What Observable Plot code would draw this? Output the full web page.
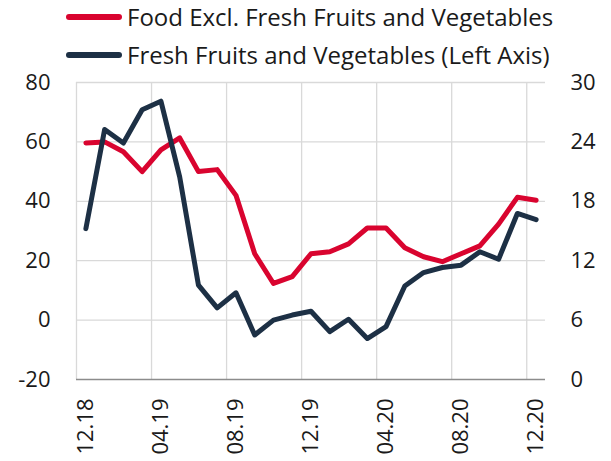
<!DOCTYPE html>
<html><head><meta charset="utf-8">
<script src="https://cdn.jsdelivr.net/npm/d3@7"></script>
<script src="https://cdn.jsdelivr.net/npm/@observablehq/plot@0.6"></script>
<style>
body{margin:0;background:#fff;font-family:"Open Sans",sans-serif;}
#legend{position:relative;height:60px;width:611px;}
.row{position:absolute;left:66px;display:flex;align-items:center;font-size:24px;color:#1a1a1a;white-space:nowrap;line-height:1;}
.sw{width:56px;height:6px;border-radius:3px;margin-right:5px;}
#chart svg{display:block;overflow:visible;}
</style></head><body>
<div id="legend"></div><div id="chart"></div>
<script>
const months = ["12.18","01.19","02.19","03.19","04.19","05.19","06.19","07.19","08.19","09.19","10.19","11.19","12.19",
  "01.20","02.20","03.20","04.20","05.20","06.20","07.20","08.20","09.20","10.20","11.20","12.20"];
const tickIndex = [0,4,8,12,16,20,24];
// Food excl. fresh fruits and vegetables (right axis, 0-30)
const foodExcl = [23.9,24.0,23.0,21.0,23.2,24.4,21.0,21.2,18.6,12.7,9.7,10.4,12.7,12.9,13.7,15.3,15.3,13.3,12.4,11.9,12.7,13.5,15.7,18.4,18.1];
// Fresh fruits and vegetables (left axis, -20-80)
const freshFV = [30.8,64.2,59.6,70.8,73.7,48.2,11.8,4.1,9.2,-5.0,0.0,1.7,3.0,-3.9,0.3,-6.2,-2.2,11.5,16.0,17.7,18.5,23.0,20.5,35.9,33.8];
const leftTicks = [-20,0,20,40,60,80];
const seriesNames = ["Food Excl. Fresh Fruits and Vegetables","Fresh Fruits and Vegetables (Left Axis)"];
const colors = ["#d9042f","#1d3045"];

const toLeft = r => r / 0.3 - 20;
const data = months.map((m, i) => ({i, m, food: foodExcl[i], fresh: freshFV[i]}));
const gridX = d3.range(-0.5, 24, 4);

const legend = document.getElementById("legend");
seriesNames.forEach((n, k) => {
  const row = document.createElement("div");
  row.className = "row";
  row.style.top = (k === 0 ? 5 : 43) + "px";
  row.innerHTML = `<span class="sw" style="background:${colors[k]}"></span><span>${n}</span>`;
  legend.appendChild(row);
});

const chart = Plot.plot({
  width: 611, height: 401,
  marginTop: 22, marginBottom: 82, marginLeft: 76, marginRight: 66,
  style: {fontFamily: "Open Sans", fontSize: "22px", color: "#1a1a1a", background: "#fff", overflow: "visible"},
  x: {type: "linear", domain: [-0.5, 24.5]},
  y: {domain: [-20, 80]},
  marks: [
    Plot.ruleY([0,20,40,60,80], {stroke: "#d9d9d9", strokeWidth: 1.3}),
    Plot.ruleX(gridX, {stroke: "#d9d9d9", strokeWidth: 1.3}),
    Plot.ruleY([-20], {stroke: "#8c8c8c", strokeWidth: 1.3}),
    Plot.axisY(leftTicks, {anchor: "left", tickSize: 0, tickPadding: 26, label: null,
      tickFormat: d => String(d)}),
    Plot.axisY(leftTicks, {anchor: "right", tickSize: 0, tickPadding: 25, label: null, textAnchor: "start",
      tickFormat: d => String(Math.round((d + 20) * 0.3))}),
    Plot.axisX(tickIndex, {anchor: "bottom", tickSize: 0, tickPadding: 19, tickRotate: -90, label: null,
      tickFormat: i => months[i]}),
    Plot.lineY(data, {x: "i", y: d => toLeft(d.food), stroke: colors[0], strokeWidth: 5, strokeLinejoin: "round", strokeLinecap: "round"}),
    Plot.lineY(data, {x: "i", y: "fresh", stroke: colors[1], strokeWidth: 5, strokeLinejoin: "round", strokeLinecap: "round"})
  ]
});
document.getElementById("chart").appendChild(chart);
</script>
</body></html>
